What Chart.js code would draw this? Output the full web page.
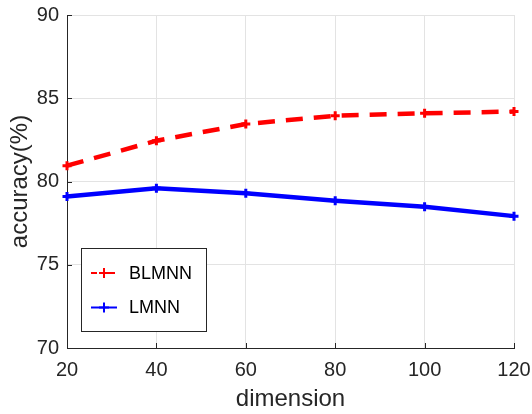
<!DOCTYPE html>
<html>
<head>
<meta charset="utf-8">
<script src="https://cdn.jsdelivr.net/npm/chart.js@4.4.1/dist/chart.umd.min.js"></script>
<style>
  html, body { margin: 0; padding: 0; background: #fff; }
  #wrap { width: 532px; height: 414px; position: relative; }
</style>
</head>
<body>
<div id="wrap"><canvas id="chart"></canvas></div>
<script>
// 데이터
const dimensions = [20, 40, 60, 80, 100, 120];
const blmnnAcc = [80.95, 82.45, 83.45, 83.95, 84.1, 84.2];
const lmnnAcc = [79.1, 79.6, 79.3, 78.85, 78.48, 77.92];
const xTicks = [20, 40, 60, 80, 100, 120];
const yTicks = [70, 75, 80, 85, 90];

const AXIS_COLOR = '#262626';
const GRID_COLOR = '#e3e3e3';
const FONT = '"Liberation Sans", Arial, Helvetica, sans-serif';

// 축 안쪽 눈금
const innerTicks = {
    id: 'innerTicks',
    afterDraw(chart) {
        const { ctx, chartArea: a, scales: { x, y } } = chart;
        ctx.save();
        ctx.strokeStyle = AXIS_COLOR;
        ctx.lineWidth = 1;
        ctx.beginPath();
        xTicks.forEach(v => {
            const px = Math.round(x.getPixelForValue(v)) + 0.5;
            ctx.moveTo(px, a.bottom);
            ctx.lineTo(px, a.bottom - 5);
        });
        yTicks.forEach(v => {
            const py = Math.round(y.getPixelForValue(v)) + 0.5;
            ctx.moveTo(a.left, py);
            ctx.lineTo(a.left + 5, py);
        });
        ctx.stroke();
        ctx.restore();
    }
};

// 플롯 안쪽 범례 박스
const boxLegend = {
    id: 'boxLegend',
    afterDraw(chart) {
        const { ctx, chartArea: a } = chart;
        const bx = a.left + 14, by = a.top + 233, bw = 125, bh = 83;
        ctx.save();
        ctx.fillStyle = '#fff';
        ctx.fillRect(bx, by, bw, bh);
        ctx.strokeStyle = AXIS_COLOR;
        ctx.lineWidth = 1;
        ctx.strokeRect(bx + 0.5, by + 0.5, bw, bh);
        chart.data.datasets.forEach((ds, i) => {
            const ly = by + 25 + i * 34.5;
            const x0 = bx + 10, x1 = bx + 36, xm = (x0 + x1) / 2;
            ctx.strokeStyle = ds.borderColor;
            ctx.lineWidth = 2;
            ctx.setLineDash(ds.borderDash && ds.borderDash.length ? [6, 3] : []);
            ctx.beginPath();
            ctx.moveTo(x0, ly);
            ctx.lineTo(x1, ly);
            ctx.stroke();
            ctx.setLineDash([]);
            ctx.beginPath();
            ctx.moveTo(xm, ly - 5);
            ctx.lineTo(xm, ly + 5);
            ctx.moveTo(xm - 5, ly);
            ctx.lineTo(xm + 5, ly);
            ctx.stroke();
            ctx.fillStyle = '#000';
            ctx.font = '18px ' + FONT;
            ctx.textBaseline = 'middle';
            ctx.textAlign = 'left';
            ctx.fillText(ds.label, bx + 48, ly + 1);
        });
        ctx.restore();
    }
};

// 축 크기 고정 (라벨 여백 자동 보정 끔)
const fixX = s => { s.height = 66; s.paddingLeft = 0; s.paddingRight = 0; };
const fixY = s => { s.width = 67; s.paddingTop = 0; s.paddingBottom = 0; };

new Chart(document.getElementById('chart'), {
    type: 'line',
    data: {
        datasets: [
            {
                label: 'BLMNN',
                data: dimensions.map((d, i) => ({ x: d, y: blmnnAcc[i] })),
                borderColor: '#ff0000',
                backgroundColor: '#ff0000',
                borderWidth: 4.5,
                borderDash: [17, 11],
                pointStyle: 'cross',
                pointRadius: 4.5,
                pointBorderWidth: 3,
                tension: 0
            },
            {
                label: 'LMNN',
                data: dimensions.map((d, i) => ({ x: d, y: lmnnAcc[i] })),
                borderColor: '#0000ff',
                backgroundColor: '#0000ff',
                borderWidth: 4.5,
                pointStyle: 'cross',
                pointRadius: 4.5,
                pointBorderWidth: 3,
                tension: 0
            }
        ]
    },
    options: {
        responsive: true,
        maintainAspectRatio: false,
        animation: false,
        clip: false,
        layout: { padding: { top: 15, right: 18, left: 0, bottom: 0 } },
        plugins: {
            legend: { display: false },
            tooltip: { enabled: false }
        },
        scales: {
            x: {
                type: 'linear',
                min: 20,
                max: 120,
                afterBuildTicks: s => { s.ticks = xTicks.map(v => ({ value: v })); },
                afterFit: fixX,
                grid: { color: GRID_COLOR, drawTicks: false },
                border: { display: true, color: AXIS_COLOR, width: 1 },
                ticks: {
                    color: AXIS_COLOR,
                    padding: 10,
                    maxRotation: 0,
                    font: { family: FONT, size: 20 }
                },
                title: {
                    display: true,
                    text: 'dimension',
                    color: AXIS_COLOR,
                    padding: { top: 0, bottom: 0 },
                    font: { family: FONT, size: 24 }
                }
            },
            y: {
                min: 70,
                max: 90,
                afterBuildTicks: s => { s.ticks = yTicks.map(v => ({ value: v })); },
                afterFit: fixY,
                grid: { color: GRID_COLOR, drawTicks: false },
                border: { display: true, color: AXIS_COLOR, width: 1 },
                ticks: {
                    color: AXIS_COLOR,
                    padding: 8,
                    font: { family: FONT, size: 20 }
                },
                title: {
                    display: true,
                    text: 'accuracy(%)',
                    color: AXIS_COLOR,
                    padding: { top: 6, bottom: 0 },
                    font: { family: FONT, size: 24 }
                }
            }
        }
    },
    plugins: [innerTicks, boxLegend]
});
</script>
</body>
</html>
